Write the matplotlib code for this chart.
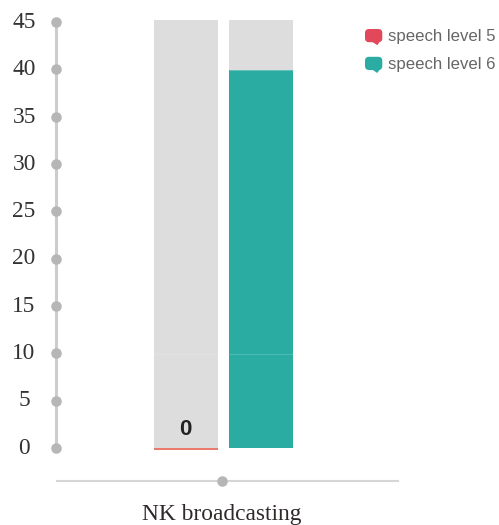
import matplotlib
matplotlib.use("Agg")
import matplotlib.pyplot as plt
from matplotlib.patches import FancyBboxPatch, Polygon
from matplotlib.transforms import Affine2D, ScaledTranslation

# Chart values
categories = ["NK broadcasting"]
series_names = ["speech level 5", "speech level 6"]
series_values = [0, 40]
series_colors = ["#e2475a", "#2aaca3"]
value_labels = ["0", None]
y_ticks = [0, 5, 10, 15, 20, 25, 30, 35, 40, 45]
track_top = 45.3

W, H = 499, 525
DPI = 100
fig = plt.figure(figsize=(W / DPI, H / DPI), dpi=DPI, facecolor="white")


def fx(px):
    return px / W


def fy(py):
    return 1 - py / H


# Axes frame in pixels: left spine at x=56, bottom spine at y=481
left, right, top, bottom = 56, 398, 10, 481
ax = fig.add_axes([fx(left), fy(bottom), fx(right - left), (bottom - top) / H])
ax.set_facecolor("none")

px_per_unit = 9.46
zero_px = 448.4
ax.set_ylim((zero_px - bottom) / px_per_unit, (zero_px - top) / px_per_unit)
group_center = 222.2
ax.set_xlim(left - group_center, right - group_center)

bar_width = 63.6
offsets = [-36.0, 38.8]
for i, cat in enumerate(categories):
    for off, val, color, lab in zip(offsets, series_values, series_colors, value_labels):
        ax.bar(i + off, track_top, width=bar_width, color="#dcdddc", zorder=1)
        if val > 0:
            ax.bar(i + off, val, width=bar_width, color=color, zorder=2)
            ax.hlines(val, i + off - bar_width / 2, i + off + bar_width / 2,
                      color="#6fc6bf", lw=0.6, zorder=3)
        else:
            ax.hlines(val - 0.08, i + off - bar_width / 2, i + off + bar_width / 2,
                      color="#e8604f", lw=1.2, zorder=3)
        # Faint rule across each bar at the 10 mark
        ax.hlines(10, i + off - bar_width / 2, i + off + bar_width / 2,
                  color="white", lw=0.7, alpha=0.18, zorder=4)
        if lab is not None:
            ax.text(i + off - 0.8, val + 0.9, lab, ha="center", va="bottom", color="#222222",
                    fontsize=16, fontweight="bold", family="Liberation Sans", zorder=5)

# Axis lines with round dots at the ticks
for side in ("top", "right"):
    ax.spines[side].set_visible(False)
ax.spines["left"].set_bounds(y_ticks[0], y_ticks[-1])
ax.spines["left"].set_color("#cccccc")
ax.spines["left"].set_linewidth(2.2)
ax.spines["bottom"].set_color("#d6d6d6")
ax.spines["bottom"].set_linewidth(1.5)
ax.spines["bottom"].set_bounds(left + 1 - group_center, right - group_center)

dot_shift = ScaledTranslation(0, 0.6 / DPI, fig.dpi_scale_trans)
ax.plot([ax.get_xlim()[0]] * len(y_ticks), y_ticks, ls="none", marker="o", ms=7.6,
        color="#b6b6b6", mec="none", clip_on=False, zorder=6,
        transform=ax.transData + dot_shift)
ax.plot(range(len(categories)), [ax.get_ylim()[0]] * len(categories), ls="none", marker="o",
        ms=7.6, color="#b6b6b6", mec="none", clip_on=False, zorder=6)

ax.set_yticks(y_ticks)
ax.set_xticks(range(len(categories)))
ax.set_xticklabels(categories, family="Liberation Serif", fontsize=16.8, color="#2e2a2a")
ax.tick_params(axis="x", length=0, pad=16.5)
ax.tick_params(axis="y", length=0, pad=23, labelsize=16.8, labelcolor="#333333")
label_shift = ScaledTranslation(0, 0.2 / DPI, fig.dpi_scale_trans)
for t in ax.get_yticklabels():
    t.set_family("Liberation Serif")
    t.set_ha("center")
    t.set_va("center")
    t.set_transform(t.get_transform() + label_shift)

# Legend entries with speech-bubble swatches, laid out in pixels from the top left
to_px = Affine2D().scale(1, -1).translate(0, H)
legend_rows = [29.0, 56.8]
legend_text_rows = [36.0, 64.0]
for name, color, y0, ty in zip(series_names, series_colors, legend_rows, legend_text_rows):
    x0, x1 = 365.0, 382.3
    y1 = y0 + 13.2
    rad = 4.0
    fig.add_artist(FancyBboxPatch((x0 + rad, y0 + rad), x1 - x0 - 2 * rad, y1 - y0 - 2 * rad,
                                  boxstyle=f"round,pad={rad},rounding_size={rad}",
                                  transform=to_px, fc=color, ec="none"))
    fig.add_artist(Polygon([(x1 - 11, y1 - 1), (x1 - 1.5, y1 - 2), (x1 - 5, y1 + 3)],
                           closed=True, transform=to_px, fc=color, ec="none"))
    fig.text(fx(388), fy(ty), name, ha="left", va="center", family="Liberation Sans",
             fontsize=12.1, color="#666666")

fig.savefig("out.png", dpi=DPI, facecolor="white")
